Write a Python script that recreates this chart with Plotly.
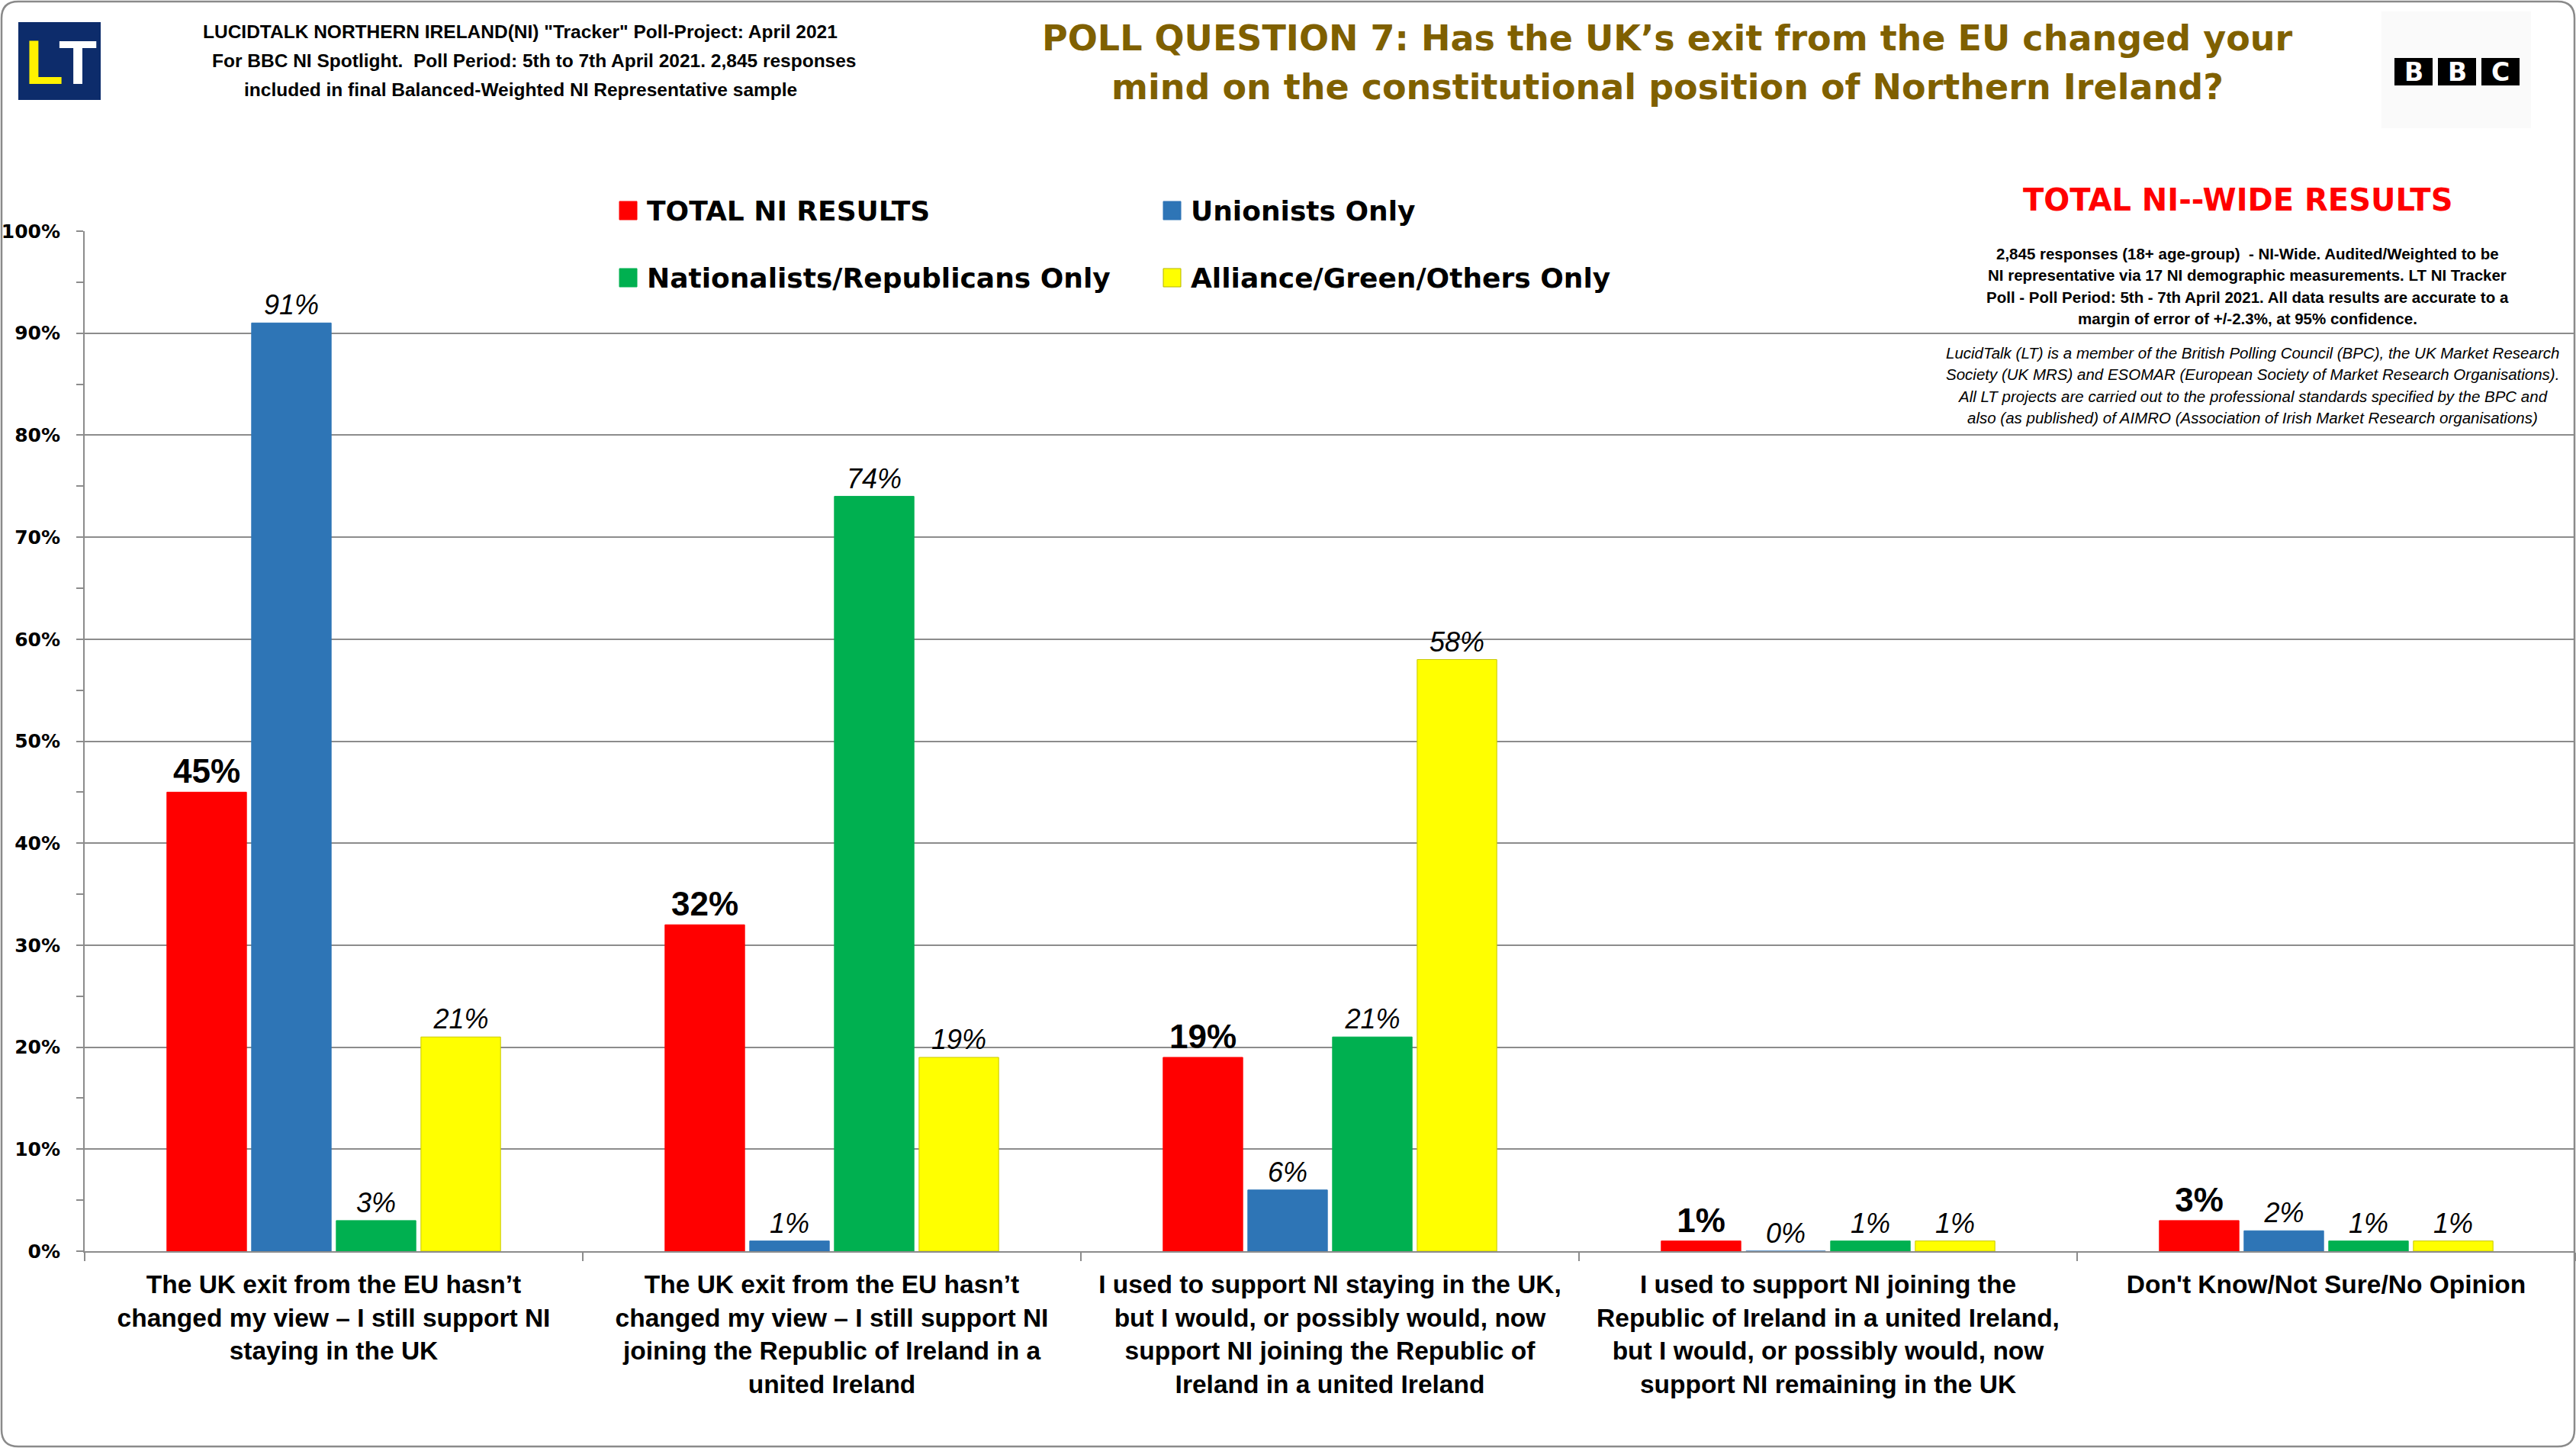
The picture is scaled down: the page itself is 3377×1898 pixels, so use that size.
import plotly.graph_objects as go

# ---------------- data ----------------
categories = [
    "The UK exit from the EU hasn\u2019t<br>changed my view \u2013 I still support NI<br>staying in the UK",
    "The UK exit from the EU hasn\u2019t<br>changed my view \u2013 I still support NI<br>joining the Republic of Ireland in a<br>united Ireland",
    "I used to support NI staying in the UK,<br>but I would, or possibly would, now<br>support NI joining the Republic of<br>Ireland in a united Ireland",
    "I used to support NI joining the<br>Republic of Ireland in a united Ireland,<br>but I would, or possibly would, now<br>support NI remaining in the UK",
    "Don't Know/Not Sure/No Opinion",
]
series_names = ["TOTAL NI RESULTS", "Unionists Only",
                "Nationalists/Republicans Only", "Alliance/Green/Others Only"]
total_ni = [45, 32, 19, 1, 3]
unionists = [91, 1, 6, 0, 2]
nationalists = [3, 74, 21, 1, 1]
alliance = [21, 19, 58, 1, 1]
series_values = [total_ni, unionists, nationalists, alliance]
series_colors = ["#FF0000", "#2E75B6", "#00B050", "#FFFF00"]
y_ticks = list(range(0, 101, 10))
y_tick_labels = [f"{v}%" for v in y_ticks]

# ---------------- geometry helpers ----------------
W, H = 3377, 1898
ML, MR, MT, MB = 111, 1, 303, 258
PW, PH = W - ML - MR, H - MT - MB


def px(x):
    return (x - ML) / PW


def py(y):
    return (H - MB - y) / PH


NARROW = "Liberation Sans Narrow, Arial Narrow, Liberation Sans, sans-serif"
ARIAL = "Liberation Sans, Arial, sans-serif"
WIDE = "DejaVu Sans, Verdana, sans-serif"

fig = go.Figure()
for i, (name, vals, col) in enumerate(zip(series_names, series_values, series_colors)):
    if i == 0:
        tf = dict(family=ARIAL, size=44, color="black", weight="bold")
    else:
        tf = dict(family=NARROW, size=36, color="black", style="italic")
    fig.add_trace(go.Bar(
        name=name, x=categories, y=vals,
        marker=dict(color=col,
                    line=dict(color="#C9C900" if col == "#FFFF00" else col, width=1)),
        text=[f"{v}%" for v in vals], textposition="outside",
        textfont=tf, cliponaxis=False, constraintext="none",
        showlegend=False,
    ))

shapes = []
annotations = []

# outer rounded border
r = 22
x0, x1, y0, y1 = px(2), px(W - 2), py(2), py(H - 2)
rx, ry = r / PW, r / PH
path = (f"M{x0+rx},{y0} L{x1-rx},{y0} Q{x1},{y0} {x1},{y0-ry} "
        f"L{x1},{y1+ry} Q{x1},{y1} {x1-rx},{y1} L{x0+rx},{y1} "
        f"Q{x0},{y1} {x0},{y1+ry} L{x0},{y0-ry} Q{x0},{y0} {x0+rx},{y0} Z")
shapes.append(dict(type="path", xref="paper", yref="paper", path=path,
                   line=dict(color="#8A8A8A", width=2.5), layer="above"))

# LT logo
shapes.append(dict(type="rect", xref="paper", yref="paper",
                   x0=px(24), x1=px(132), y0=py(131), y1=py(29),
                   fillcolor="#0D2C6B", line=dict(width=0), layer="below"))
annotations.append(dict(text="<span style='color:#FFF200'>L</span><span style='color:white'>T</span>",
                        xref="paper", yref="paper", x=px(80), y=py(81),
                        xanchor="center", yanchor="middle", showarrow=False,
                        font=dict(family=ARIAL, size=82, color="white", weight="bold")))

# header left text
hdr = ['LUCIDTALK NORTHERN IRELAND(NI) "Tracker" Poll-Project: April 2021',
       'For BBC NI Spotlight.  Poll Period: 5th to 7th April 2021. 2,845 responses',
       'included in final Balanced-Weighted NI Representative sample']
hdr_x = [682, 700, 682]
for k, line in enumerate(hdr):
    annotations.append(dict(text=line, xref="paper", yref="paper", x=px(hdr_x[k]), y=py(42 + 38 * k),
                            xanchor="center", yanchor="middle", showarrow=False,
                            font=dict(family=ARIAL, size=24.5, color="black", weight="bold")))

# title
ttl = ["POLL QUESTION 7: Has the UK\u2019s exit from the EU changed your",
       "mind on the constitutional position of Northern Ireland?"]
for k, line in enumerate(ttl):
    annotations.append(dict(text=line, xref="paper", yref="paper", x=px(2186), y=py(50 + 64 * k),
                            xanchor="center", yanchor="middle", showarrow=False,
                            font=dict(family=WIDE, size=46, color="#7F6000", weight="bold")))

# BBC logo
shapes.append(dict(type="rect", xref="paper", yref="paper",
                   x0=px(3122), x1=px(3318), y0=py(168), y1=py(15),
                   fillcolor="#FAFAFA", line=dict(width=0), layer="below"))
for k, (bx, letter) in enumerate(zip([3139, 3196, 3253], "BBC")):
    shapes.append(dict(type="rect", xref="paper", yref="paper",
                       x0=px(bx), x1=px(bx + 50), y0=py(112), y1=py(76),
                       fillcolor="black", line=dict(width=0), layer="below"))
    annotations.append(dict(text=letter, xref="paper", yref="paper", x=px(bx + 25), y=py(94),
                            xanchor="center", yanchor="middle", showarrow=False,
                            font=dict(family=WIDE, size=33, color="white", weight="bold")))

# legend (manual, 2x2)
leg_pos = [(812, 276), (1525, 276), (812, 364), (1525, 364)]
for (lx, ly), name, col in zip(leg_pos, series_names, series_colors):
    shapes.append(dict(type="rect", xref="paper", yref="paper",
                       x0=px(lx), x1=px(lx + 23), y0=py(ly + 12), y1=py(ly - 12),
                       fillcolor=col,
                       line=dict(color="#B5B500" if col == "#FFFF00" else col, width=1)))
    annotations.append(dict(text=name, xref="paper", yref="paper", x=px(lx + 34), y=py(ly),
                            xanchor="left", yanchor="middle", showarrow=False,
                            font=dict(family=WIDE, size=36, color="black", weight="bold")))

# right side headline & notes
annotations.append(dict(text="TOTAL NI--WIDE RESULTS", xref="paper", yref="paper",
                        x=px(2933), y=py(262), xanchor="center", yanchor="middle",
                        showarrow=False,
                        font=dict(family=WIDE, size=40, color="#FF0000", weight="bold")))
note1 = ["2,845 responses (18+ age-group)  - NI-Wide. Audited/Weighted to be",
         "NI representative via 17 NI demographic measurements. LT NI Tracker",
         "Poll - Poll Period: 5th - 7th April 2021. All data results are accurate to a",
         "margin of error of +/-2.3%, at 95% confidence."]
for k, line in enumerate(note1):
    annotations.append(dict(text=line, xref="paper", yref="paper", x=px(2946), y=py(332 + 28.5 * k),
                            xanchor="center", yanchor="middle", showarrow=False,
                            font=dict(family=ARIAL, size=20.5, color="black", weight="bold")))
note2 = ["LucidTalk (LT) is a member of the British Polling Council (BPC), the UK Market Research",
         "Society (UK MRS) and ESOMAR (European Society of Market Research Organisations).",
         "All LT projects are carried out to the professional standards specified by the BPC and",
         "also (as published) of AIMRO (Association of Irish Market Research organisations)"]
for k, line in enumerate(note2):
    annotations.append(dict(text=line, xref="paper", yref="paper", x=px(2953), y=py(462 + 28.5 * k),
                            xanchor="center", yanchor="middle", showarrow=False,
                            font=dict(family=ARIAL, size=20.5, color="black", style="italic")))

fig.update_layout(
    width=W, height=H,
    margin=dict(l=ML, r=MR, t=MT, b=MB, pad=0),
    paper_bgcolor="white", plot_bgcolor="white",
    barmode="group", bargap=0.32, bargroupgap=0.06,
    showlegend=False,
    shapes=shapes, annotations=annotations,
    xaxis=dict(
        type="category", showline=True, linecolor="#8C8C8C", linewidth=2,
        ticks="outside", tickson="boundaries", ticklen=11, tickcolor="#8C8C8C",
        tickwidth=2, showgrid=False,
        tickfont=dict(family=ARIAL, size=33.5, color="black", weight="bold"),
        ticklabelstandoff=13,
    ),
    yaxis=dict(
        range=[0, 100], tickvals=y_ticks, ticktext=y_tick_labels,
        showline=True, linecolor="#8C8C8C", linewidth=2,
        ticks="outside", ticklen=9, tickcolor="#8C8C8C", tickwidth=2,
        showgrid=True, gridcolor="#8C8C8C", gridwidth=1.5, zeroline=False,
        minor=dict(dtick=5, tick0=0, ticks="outside", ticklen=9,
                   tickcolor="#8C8C8C", tickwidth=2, showgrid=False),
        tickfont=dict(family=WIDE, size=25, color="black", weight="bold"),
        ticklabelstandoff=16,
    ),
)

fig.write_html("out.html", config={"displayModeBar": False},
               post_script="document.body.style.margin='0';document.body.style.overflow='hidden';")
